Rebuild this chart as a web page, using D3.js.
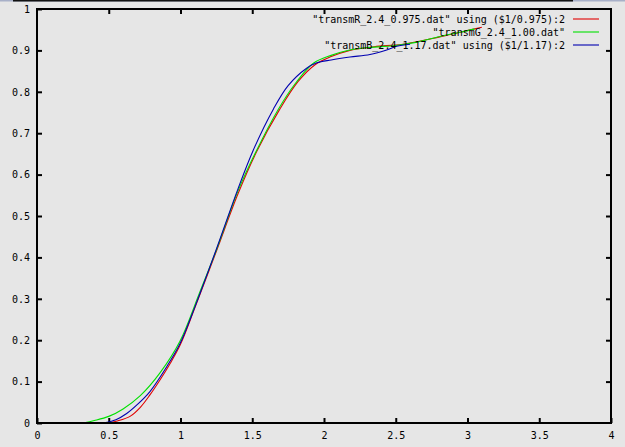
<!DOCTYPE html>
<html><head><meta charset="utf-8">
<script src="https://cdn.jsdelivr.net/npm/d3@7/dist/d3.min.js"></script>
<style>
html,body{margin:0;padding:0;background:#e6e6e6;}
svg{display:block;}
text{font-family:"DejaVu Sans Mono",monospace;font-size:10px;fill:#000;}
</style></head>
<body>
<svg id="c" width="625" height="447"></svg>
<script>
const xTicks = [0, 0.5, 1, 1.5, 2, 2.5, 3, 3.5, 4];
const yTicks = [0, 0.1, 0.2, 0.3, 0.4, 0.5, 0.6, 0.7, 0.8, 0.9, 1];
const xTickLabels = ["0", "0.5", "1", "1.5", "2", "2.5", "3", "3.5", "4"];
const yTickLabels = ["0", "0.1", "0.2", "0.3", "0.4", "0.5", "0.6", "0.7", "0.8", "0.9", "1"];

const seriesNames = [
  "\"transmR_2.4_0.975.dat\" using ($1/0.975):2",
  "\"transmG_2.4_1.00.dat\"",
  "\"transmB_2.4_1.17.dat\" using ($1/1.17):2"
];
const seriesColors = ["#e00000", "#00e000", "#0000b0"];

const redX = [0.49, 0.56, 0.648, 0.72, 0.787, 0.857, 0.93, 1.0, 1.1, 1.25, 1.4, 1.53, 1.69, 1.82, 1.94, 2.05, 2.18, 2.35, 2.55, 2.8, 2.95, 3.1];
const redY = [0, 0.005, 0.016, 0.038, 0.068, 0.104, 0.145, 0.19, 0.278, 0.415, 0.553, 0.655, 0.757, 0.825, 0.866, 0.885, 0.9, 0.909, 0.915, 0.932, 0.944, 0.956];

const greenX = [0.32, 0.4, 0.5, 0.6, 0.72, 0.857, 0.997, 1.131, 1.25, 1.4, 1.531, 1.682, 1.8, 1.926, 2.05, 2.18, 2.35, 2.5, 2.65, 2.8, 2.95, 3.05];
const greenY = [0, 0.006, 0.016, 0.034, 0.066, 0.121, 0.198, 0.313, 0.418, 0.56, 0.659, 0.758, 0.82, 0.869, 0.888, 0.901, 0.908, 0.912, 0.92, 0.933, 0.944, 0.952];

const blueX = [0.46, 0.55, 0.625, 0.7, 0.787, 0.904, 0.997, 1.1, 1.25, 1.4, 1.507, 1.647, 1.75, 1.879, 1.95, 2.05, 2.181, 2.32, 2.437, 2.507, 2.6];
const blueY = [0, 0.008, 0.023, 0.045, 0.076, 0.136, 0.192, 0.28, 0.42, 0.565, 0.659, 0.758, 0.815, 0.857, 0.87, 0.877, 0.884, 0.89, 0.901, 0.91, 0.915];

const svg = d3.select("#c");
const L = 37, R = 611, T = 9, B = 423;
const x = d3.scaleLinear().domain([0, 4]).range([L, R]);
const y = d3.scaleLinear().domain([0, 1]).range([B, T]);

// window frame strip at top
svg.append("rect").attr("x", 0).attr("y", 0).attr("width", 625).attr("height", 1.5).attr("fill", "#a8b0c8");
svg.append("rect").attr("x", 13).attr("y", 0).attr("width", 560).attr("height", 1.5).attr("fill", "#111");

function styleAxis(g) {
  g.select(".domain").remove();
  g.selectAll(".tick line").attr("stroke", "#000").attr("stroke-width", 2);
}

svg.append("g").attr("transform", `translate(0,${B})`)
  .call(d3.axisBottom(x).tickValues(xTicks).tickFormat((d, i) => xTickLabels[i]).tickSize(-5).tickPadding(9))
  .call(styleAxis)
  .call(g => g.selectAll("text").attr("font-family", null).attr("font-size", null));
svg.append("g").attr("transform", `translate(0,${T})`)
  .call(d3.axisTop(x).tickValues(xTicks.slice(1, -1)).tickFormat("").tickSize(-5))
  .call(styleAxis);
svg.append("g").attr("transform", `translate(${L},0)`)
  .call(d3.axisLeft(y).tickValues(yTicks).tickFormat((d, i) => yTickLabels[i]).tickSize(-5).tickPadding(7))
  .call(styleAxis)
  .call(g => g.selectAll("text").attr("font-family", null).attr("font-size", null));
svg.append("g").attr("transform", `translate(${R},0)`)
  .call(d3.axisRight(y).tickValues(yTicks.slice(1, -1)).tickFormat("").tickSize(-5))
  .call(styleAxis);

const line = d3.line().x(d => x(d[0])).y(d => y(d[1])).curve(d3.curveCatmullRom.alpha(0.5));
const series = [
  d3.zip(redX, redY),
  d3.zip(greenX, greenY),
  d3.zip(blueX, blueY)
];
series.forEach((s, i) => {
  svg.append("path").datum(s).attr("d", line)
    .attr("fill", "none").attr("stroke", seriesColors[i]).attr("stroke-width", 1.1);
});

// frame
svg.append("rect").attr("x", L).attr("y", T).attr("width", R - L).attr("height", B - T)
  .attr("fill", "none").attr("stroke", "#000").attr("stroke-width", 2);

// legend
const leg = svg.append("g");
seriesNames.forEach((n, i) => {
  const yy = 19 + i * 13;
  leg.append("text").attr("x", 565).attr("y", yy).attr("dy", "0.35em")
    .attr("text-anchor", "end").text(n);
  leg.append("line").attr("x1", 573).attr("x2", 599).attr("y1", yy).attr("y2", yy)
    .attr("stroke", seriesColors[i]).attr("stroke-width", 1.1);
});
</script>
</body></html>
